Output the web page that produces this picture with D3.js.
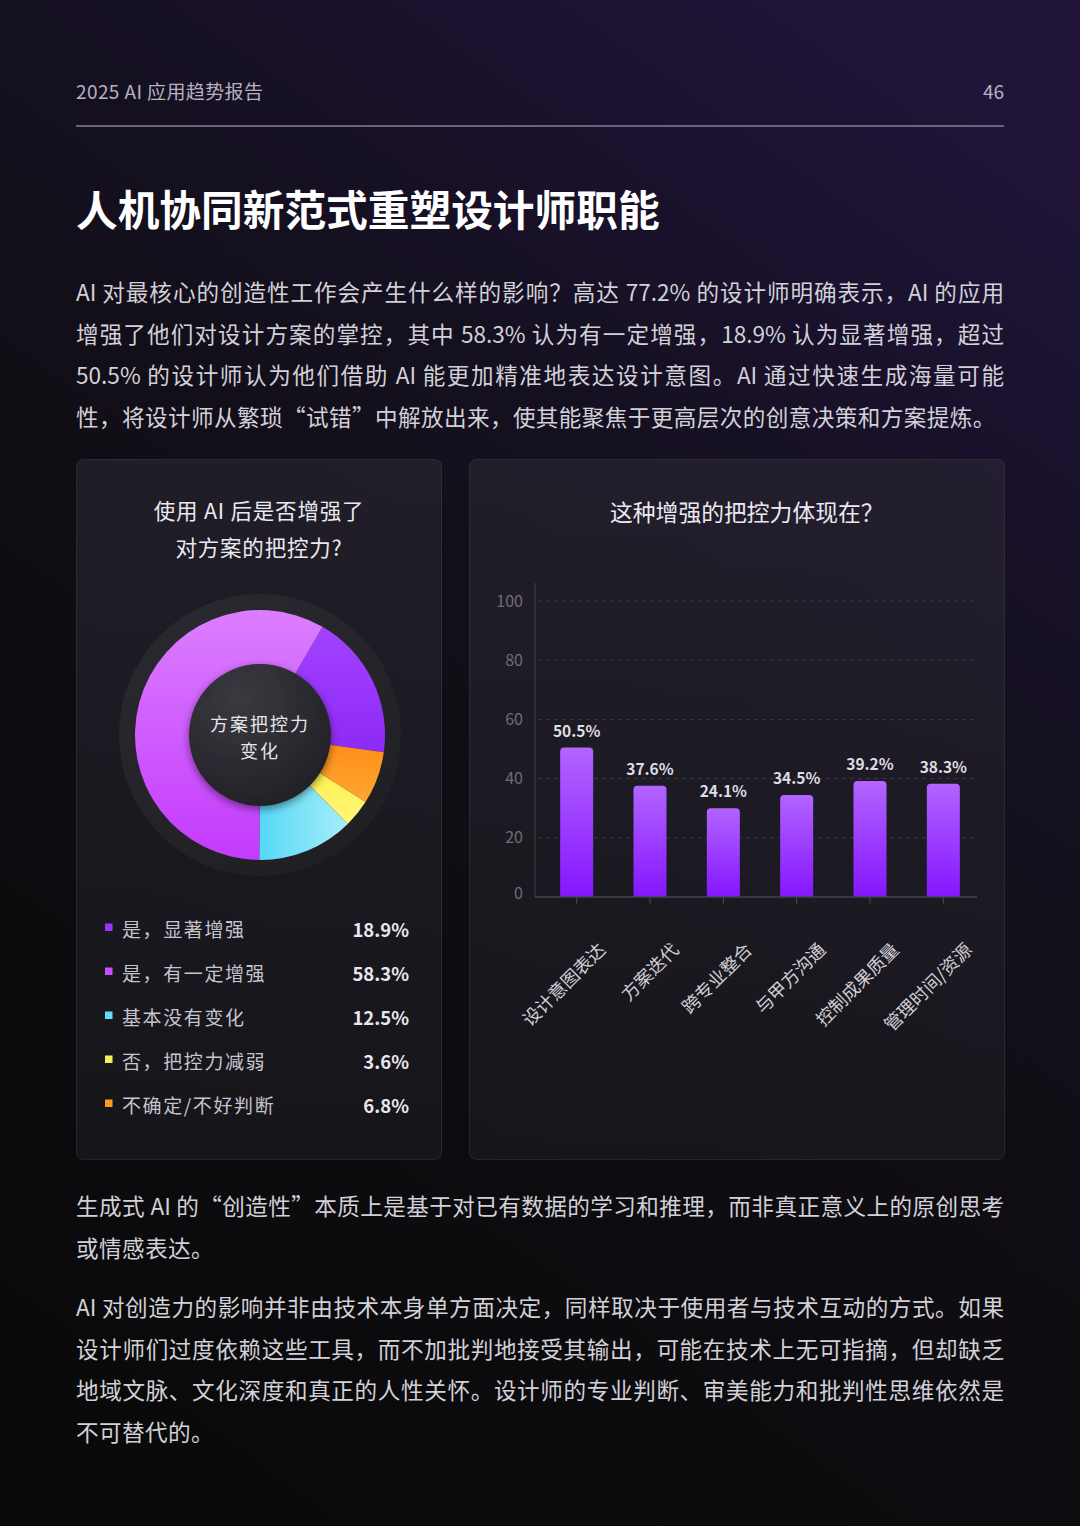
<!DOCTYPE html>
<html lang="zh-CN">
<head>
<meta charset="utf-8">
<title>人机协同新范式重塑设计师职能</title>
<script src="https://cdn.jsdelivr.net/npm/d3@7/dist/d3.min.js"></script>
<style>
  html, body { margin: 0; padding: 0; background: #0b0a0d; }
  #page { position: relative; width: 1080px; height: 1526px; overflow: hidden;
          font-family: "Noto Sans CJK SC", "Noto Sans", sans-serif; }
  #page svg { position: absolute; left: 0; top: 0; }
  .para { position: absolute; left: 76px; width: 928px; font-size: 22.6px; line-height: 41.7px;
          color: #d2d0d8; }
  .para .ln { text-align: justify; text-align-last: justify; height: 41.7px; overflow: visible; }
  .para .ln.last { text-align-last: left; letter-spacing: 0.4px; white-space: nowrap; }
</style>
</head>
<body>
<div id="page"></div>
<script>
// page texts
const headerText = '2025 AI 应用趋势报告';
const pageNumber = '46';
const pageTitle = '人机协同新范式重塑设计师职能';
const introLines = [
  'AI 对最核心的创造性工作会产生什么样的影响？高达 77.2% 的设计师明确表示，AI 的应用',
  '增强了他们对设计方案的掌控，其中 58.3% 认为有一定增强，18.9% 认为显著增强，超过',
  '50.5% 的设计师认为他们借助 AI 能更加精准地表达设计意图。AI 通过快速生成海量可能',
  '性，将设计师从繁琐“试错”中解放出来，使其能聚焦于更高层次的创意决策和方案提炼。'
];
const closingLinesA = [
  '生成式 AI 的“创造性”本质上是基于对已有数据的学习和推理，而非真正意义上的原创思考',
  '或情感表达。'
];
const closingLinesB = [
  'AI 对创造力的影响并非由技术本身单方面决定，同样取决于使用者与技术互动的方式。如果',
  '设计师们过度依赖这些工具，而不加批判地接受其输出，可能在技术上无可指摘，但却缺乏',
  '地域文脉、文化深度和真正的人性关怀。设计师的专业判断、审美能力和批判性思维依然是',
  '不可替代的。'
];

// donut chart
const donutTitle = ['使用 AI 后是否增强了', '对方案的把控力?'];
const donutCenter = ['方案把控力', '变化'];
const answerLabels = ['是，显著增强', '是，有一定增强', '基本没有变化', '否，把控力减弱', '不确定/不好判断'];
const answerShares = [18.9, 58.3, 12.5, 3.6, 6.8];
const answerColors = ['#9b34ff', '#c94cff', '#62dcf7', '#f6f15a', '#ff9a1f'];
const answerGradients = [['#a242ff', '#8d2af7'], ['#dc7eff', '#c33afd'], ['#56d8f6', '#a6eef9'],
                         ['#fff24f', '#fff57a'], ['#ff8e16', '#ffa733']];
const ringOrder = [0, 4, 3, 2, 1]; // clockwise order of the slices in the ring

// bar chart
const barTitle = '这种增强的把控力体现在？';
const barCategories = ['设计意图表达', '方案迭代', '跨专业整合', '与甲方沟通', '控制成果质量', '管理时间/资源'];
const barShares = [50.5, 37.6, 24.1, 34.5, 39.2, 38.3];   // printed labels
const barHeights = [50.5, 37.6, 30.0, 34.5, 39.2, 38.3];  // heights as drawn in the picture
const yTicks = [0, 20, 40, 60, 80, 100];

const W = 1080, H = 1526;
const FONT = '"Noto Sans CJK SC", "Noto Sans", sans-serif';

const page = d3.select('#page');
const svg = page.append('svg').attr('width', W).attr('height', H);
const defs = svg.append('defs');

// background
const bg = defs.append('linearGradient').attr('id', 'bg')
  .attr('x1', 0.8).attr('y1', 0).attr('x2', 0.3).attr('y2', 1);
[[0, '#201538'], [0.14, '#1b1230'], [0.32, '#151020'], [0.55, '#100e14'], [0.8, '#0c0b0e'], [1, '#0a0a0b']]
  .forEach(([o, c]) => bg.append('stop').attr('offset', o).attr('stop-color', c));
svg.append('rect').attr('width', W).attr('height', H).attr('fill', 'url(#bg)');

// header
svg.append('text').attr('x', 76).attr('y', 99)
  .attr('font-family', FONT).attr('font-size', 19).attr('letter-spacing', 0.4).attr('fill', '#b7b2c3')
  .text(headerText);
svg.append('text').attr('x', 1004).attr('y', 99).attr('text-anchor', 'end')
  .attr('font-family', FONT).attr('font-size', 19).attr('fill', '#b7b2c3')
  .text(pageNumber);
svg.append('line').attr('x1', 76).attr('x2', 1004).attr('y1', 126).attr('y2', 126)
  .attr('stroke', '#6a6379').attr('stroke-width', 2);

svg.append('text').attr('x', 76).attr('y', 226)
  .attr('font-family', FONT).attr('font-size', 41.7).attr('font-weight', 700).attr('fill', '#ffffff')
  .text(pageTitle);

function addParagraph(lines, top) {
  const p = page.append('div').attr('class', 'para').style('top', top + 'px');
  p.selectAll('div').data(lines).join('div')
    .attr('class', (d, i) => i === lines.length - 1 ? 'ln last' : 'ln')
    .text(d => d);
}
addParagraph(introLines, 271);
addParagraph(closingLinesA, 1185);
addParagraph(closingLinesB, 1286);

// cards
const cards = [{ x: 76, y: 459, w: 365, h: 700 }, { x: 469, y: 459, w: 535, h: 700 }];
const cardFill = defs.append('linearGradient').attr('id', 'cardFill')
  .attr('x1', 0).attr('y1', 0).attr('x2', 0).attr('y2', 1);
cardFill.append('stop').attr('offset', 0).attr('stop-color', '#2a2733').attr('stop-opacity', 0.6);
cardFill.append('stop').attr('offset', 1).attr('stop-color', '#1d1c22').attr('stop-opacity', 0.6);
svg.selectAll('rect.card').data(cards).join('rect').attr('class', 'card')
  .attr('x', d => d.x + 0.5).attr('y', d => d.y + 0.5)
  .attr('width', d => d.w).attr('height', d => d.h).attr('rx', 7)
  .attr('fill', 'url(#cardFill)').attr('stroke', 'rgba(255,255,255,0.09)');

// ---- donut ----
const cx = 260, cy = 735;
const donut = svg.append('g').attr('transform', `translate(${cx},${cy})`);

svg.selectAll('text.dtitle').data(donutTitle).join('text').attr('class', 'dtitle')
  .attr('x', 259).attr('y', (d, i) => 519 + i * 37).attr('text-anchor', 'middle')
  .attr('font-family', FONT).attr('font-size', 21.5).attr('letter-spacing', 0.8).attr('fill', '#ebe9f0')
  .text(d => d);

const ringBg = defs.append('linearGradient').attr('id', 'ringBg')
  .attr('x1', 0.2).attr('y1', 0).attr('x2', 0.8).attr('y2', 1);
ringBg.append('stop').attr('offset', 0).attr('stop-color', '#2a2930');
ringBg.append('stop').attr('offset', 1).attr('stop-color', '#1f1e23');
donut.append('circle').attr('r', 141).attr('fill', 'url(#ringBg)');

answerGradients.forEach((g, i) => {
  const vertical = i !== 2;
  const lg = defs.append('linearGradient').attr('id', 'slice' + i)
    .attr('x1', 0).attr('y1', 0).attr('x2', vertical ? 0 : 1).attr('y2', vertical ? 1 : 0);
  lg.append('stop').attr('offset', 0).attr('stop-color', g[0]);
  lg.append('stop').attr('offset', 1).attr('stop-color', g[1]);
});

const start = 30 * Math.PI / 180;
const pie = d3.pie().sort(null).value(i => answerShares[i])
  .startAngle(start).endAngle(start + 2 * Math.PI);
const arc = d3.arc().innerRadius(68).outerRadius(125);
donut.selectAll('path.slice').data(pie(ringOrder)).join('path').attr('class', 'slice')
  .attr('d', arc).attr('fill', d => `url(#slice${d.data})`);

const hole = defs.append('radialGradient').attr('id', 'hole')
  .attr('cx', 0.35).attr('cy', 0.25).attr('r', 0.9);
hole.append('stop').attr('offset', 0).attr('stop-color', '#3a3940');
hole.append('stop').attr('offset', 1).attr('stop-color', '#1f1e23');
const shadow = defs.append('filter').attr('id', 'holeShadow')
  .attr('x', -0.3).attr('y', -0.3).attr('width', 1.6).attr('height', 1.6);
shadow.append('feDropShadow').attr('dx', 0).attr('dy', 3).attr('stdDeviation', 4)
  .attr('flood-color', '#000').attr('flood-opacity', 0.45);
donut.append('circle').attr('r', 71).attr('fill', 'url(#hole)').attr('filter', 'url(#holeShadow)');

donut.selectAll('text.center').data(donutCenter).join('text').attr('class', 'center')
  .attr('y', (d, i) => -4 + i * 27).attr('text-anchor', 'middle')
  .attr('font-family', FONT).attr('font-size', 18).attr('letter-spacing', 2)
  .attr('fill', '#e6e5ea').text(d => d);

// legend
const legend = svg.append('g');
const rowY = i => 930 + i * 44;
legend.selectAll('rect').data(answerLabels).join('rect')
  .attr('x', 105).attr('y', (d, i) => rowY(i) - 6.5).attr('width', 7.5).attr('height', 7.5)
  .attr('fill', (d, i) => answerColors[i]);
legend.selectAll('text.lab').data(answerLabels).join('text').attr('class', 'lab')
  .attr('x', 122).attr('y', (d, i) => rowY(i) + 7)
  .attr('font-family', FONT).attr('font-size', 19).attr('letter-spacing', 1.6)
  .attr('fill', '#c6c4cc').text(d => d);
legend.selectAll('text.val').data(answerShares).join('text').attr('class', 'val')
  .attr('x', 409).attr('y', (d, i) => rowY(i) + 7).attr('text-anchor', 'end')
  .attr('font-family', FONT).attr('font-size', 18.5).attr('font-weight', 700)
  .attr('fill', '#e9e7ee').text(d => d.toFixed(1) + '%');

// ---- bar chart ----
svg.append('text').attr('x', 610).attr('y', 521)
  .attr('font-family', FONT).attr('font-size', 22.8).attr('fill', '#ebe9f0')
  .text(barTitle);

const x = d3.scaleBand().domain(barCategories).range([540, 980])
  .paddingInner(0.55).paddingOuter(0.275);
const y = d3.scaleLinear().domain([0, 100]).range([897, 601]);

const chart = svg.append('g');

// gridlines
chart.selectAll('line.grid').data(yTicks.filter(t => t > 0)).join('line').attr('class', 'grid')
  .attr('x1', 538).attr('x2', 975).attr('y1', d => y(d)).attr('y2', d => y(d))
  .attr('stroke', 'rgba(255,255,255,0.13)').attr('stroke-dasharray', '4,4');

// y axis
const yAxis = chart.append('g').attr('transform', 'translate(535,0)')
  .call(d3.axisLeft(y).tickValues(yTicks).tickSize(0).tickPadding(12));
yAxis.select('.domain').remove();
yAxis.selectAll('text').attr('font-family', FONT).attr('font-size', 16).attr('fill', '#6f6b78')
  .attr('dy', d => d === 0 ? '0.1em' : '0.32em');
chart.append('line').attr('x1', 535).attr('x2', 535).attr('y1', 583).attr('y2', 897)
  .attr('stroke', '#3b3942').attr('stroke-width', 1.2);

// bars
const barFill = defs.append('linearGradient').attr('id', 'barFill')
  .attr('x1', 0).attr('y1', 0).attr('x2', 0).attr('y2', 1);
barFill.append('stop').attr('offset', 0).attr('stop-color', '#b264ff');
barFill.append('stop').attr('offset', 1).attr('stop-color', '#8516ff');

function topRounded(x0, y0, w, h, r) {
  return `M${x0},${y0 + h}V${y0 + r}Q${x0},${y0} ${x0 + r},${y0}H${x0 + w - r}` +
         `Q${x0 + w},${y0} ${x0 + w},${y0 + r}V${y0 + h}Z`;
}
chart.selectAll('path.bar').data(barCategories).join('path').attr('class', 'bar')
  .attr('d', (d, i) => topRounded(x(d), y(barHeights[i]), x.bandwidth(), y(0) - y(barHeights[i]), 4))
  .attr('fill', 'url(#barFill)');

chart.selectAll('text.bval').data(barCategories).join('text').attr('class', 'bval')
  .attr('x', d => x(d) + x.bandwidth() / 2).attr('y', (d, i) => y(barHeights[i]) - 11)
  .attr('text-anchor', 'middle').attr('font-family', FONT).attr('font-size', 15.5)
  .attr('font-weight', 700).attr('fill', '#dedce4')
  .text((d, i) => barShares[i].toFixed(1) + '%');

// baseline + x axis
chart.append('line').attr('x1', 535).attr('x2', 977).attr('y1', 897).attr('y2', 897)
  .attr('stroke', '#45434c').attr('stroke-width', 1.5);
const xAxis = chart.append('g').attr('transform', 'translate(0,897)')
  .call(d3.axisBottom(x).tickSize(7).tickSizeOuter(0));
xAxis.select('.domain').remove();
xAxis.selectAll('line').attr('stroke', '#4a4852');
xAxis.selectAll('text')
  .attr('font-family', FONT).attr('font-size', 18).attr('fill', '#cfcdd4')
  .attr('text-anchor', 'end').attr('dy', null).attr('y', null)
  .attr('transform', 'translate(30,54) rotate(-45)');
</script>
</body>
</html>
